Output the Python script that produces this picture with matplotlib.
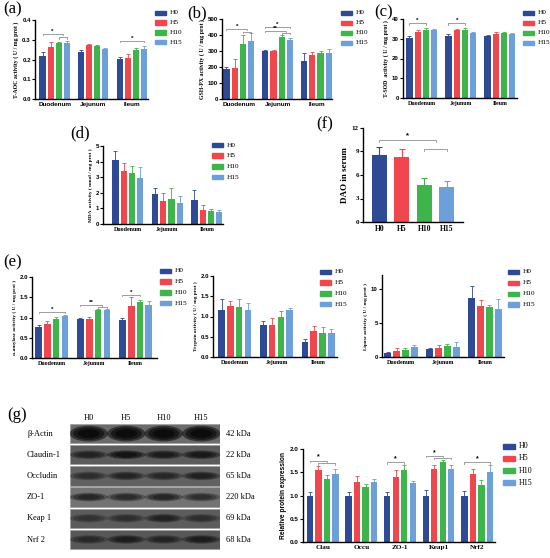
import matplotlib
matplotlib.use("Agg")
import matplotlib.pyplot as plt
from matplotlib.patches import Rectangle, Ellipse

plt.rcParams['font.family'] = ['Liberation Serif', 'DejaVu Serif']
plt.rcParams['axes.linewidth'] = 1.0

W, H = 550, 558
fig = plt.figure(figsize=(W / 100, H / 100), dpi=100)

groups = ['H0', 'H5', 'H10', 'H15']
colors = ['#2e4a94', '#f0474e', '#3db54a', '#6d9fd8']
tissues = ['Duodenum', 'Jejunum', 'Ileum']

# (a) T-AOC
taoc = [[0.218, 0.263, 0.283, 0.283], [0.238, 0.272, 0.270, 0.252], [0.203, 0.208, 0.250, 0.252]]
taoc_err = [[0.018, 0.028, 0.004, 0.012], [0.012, 0.008, 0.005, 0.004], [0.012, 0.018, 0.008, 0.015]]
# (b) GSH-PX
gsh = [[188, 195, 345, 360], [300, 302, 387, 367], [240, 278, 285, 285]]
gsh_err = [[12, 52, 58, 55], [6, 4, 12, 12], [48, 18, 18, 25]]
# (c) T-SOD
tsod = [[30.6, 33.4, 34.5, 34.3], [31.5, 34.2, 34.5, 33.0], [31.3, 32.6, 32.9, 32.4]]
tsod_err = [[0.9, 0.8, 1.1, 0.8], [1.0, 0.5, 1.0, 0.5], [0.8, 0.8, 0.3, 0.7]]
# (d) MDA
mda = [[4.1, 3.38, 3.25, 2.95], [1.95, 1.48, 1.58, 1.35], [1.55, 0.9, 0.85, 0.75]]
mda_err = [[0.55, 0.5, 0.45, 0.7], [0.35, 0.5, 0.72, 0.42], [0.6, 0.35, 0.1, 0.15]]
# (f) DAO
dao = [8.5, 8.3, 4.7, 4.5]
dao_err = [1.1, 1.0, 0.9, 0.7]
# (e) enzymes
amy = [[0.77, 0.85, 0.96, 1.03], [0.97, 0.97, 1.19, 1.19], [0.93, 1.29, 1.39, 1.32]]
amy_err = [[0.04, 0.06, 0.05, 0.04], [0.03, 0.04, 0.01, 0.02], [0.06, 0.22, 0.04, 0.08]]
tryp = [[1.17, 1.25, 1.23, 1.17], [0.78, 0.80, 1.00, 1.15], [0.37, 0.65, 0.60, 0.60]]
tryp_err = [[0.27, 0.13, 0.20, 0.17], [0.10, 0.17, 0.13, 0.05], [0.07, 0.11, 0.13, 0.08]]
lip = [[0.6, 0.9, 1.05, 1.5], [1.15, 1.25, 1.55, 1.5], [8.7, 7.4, 7.3, 7.0]]
lip_err = [[0.1, 0.35, 0.3, 0.25], [0.15, 0.45, 0.3, 0.65], [1.7, 1.0, 0.25, 1.55]]
# (g) proteins
proteins = ['Clau', 'Occu', 'ZO-1', 'Keap1', 'Nrf2']
prot = [[1.0, 1.55, 1.36, 1.47], [1.0, 1.30, 1.18, 1.28], [1.0, 1.40, 1.54, 1.27],
        [1.0, 1.57, 1.71, 1.56], [1.0, 1.47, 1.23, 1.50]]
prot_err = [[0.08, 0.08, 0.08, 0.10], [0.08, 0.12, 0.07, 0.08], [0.08, 0.15, 0.12, 0.04],
            [0.12, 0.09, 0.05, 0.09], [0.10, 0.10, 0.10, 0.15]]

blot_rows = ['β-Actin', 'Claudin-1', 'Occludin', 'ZO-1', 'Keap 1', 'Nrf 2']
blot_kda = ['42 kDa', '22 kDa', '65 kDa', '220 kDa', '69 kDa', '68 kDa']
blot_bg = [0.42, 0.36, 0.38, 0.45, 0.36, 0.34]
blot_dark = [[1.0, 1.0, 1.0, 1.0], [0.55, 0.8, 0.65, 0.7], [0.45, 0.55, 0.5, 0.6],
             [0.6, 0.55, 0.6, 0.5], [0.35, 0.4, 0.55, 0.4], [0.45, 0.6, 0.5, 0.6]]

# significance brackets: (group, from bar, to bar, y, label)
sig_a = [(0, 0, 2.5, 0.329, '*'), (0, 2, 3, 0.312, ''), (2, 0, 3, 0.295, '*')]
sig_b = [(0, 0, 2.5, 437, '*'), (0, 2, 3, 421, ''), (1, 0, 3, 452, '*'), (1, 0, 2.5, 427, '**'), (1, 2, 3, 415, '')]
sig_c = [(0, 0, 2, 37.8, '*'), (1, 0, 2, 37.8, '*')]
sig_e1 = [(0, 0, 3, 1.14, '*'), (1, 0, 2.5, 1.30, '**'), (1, 2, 3, 1.26, ''), (2, 0, 2, 1.55, '*')]
sig_g = [(0, 0, 2, 1.75, '*'), (0, 1, 3, 1.69, ''), (2, 0, 2, 1.71, '*'),
         (3, 0, 2, 1.85, '*'), (3, 1, 3, 1.80, ''), (4, 0, 3, 1.71, '*')]

PITCH = 0.21
BW = 0.16


def ax_px(l, t, r, b):
    return fig.add_axes([l / W, 1 - b / H, (r - l) / W, (b - t) / H])


def style(ax, ylim, yticks, ylabel, ysize=4.2, sans_y=True):
    ax.spines['top'].set_visible(False)
    ax.spines['right'].set_visible(False)
    ax.set_ylim(*ylim)
    ax.set_yticks(yticks)
    ax.tick_params(axis='y', length=2, width=0.8, pad=1)
    ax.tick_params(axis='x', length=0, pad=2)
    fam = ['Liberation Sans'] if sans_y else ['Liberation Serif']
    for t in ax.get_yticklabels():
        t.set_family(fam)
        t.set_fontsize(4.4)
        t.set_fontweight('bold')
    ax.set_ylabel(ylabel, fontsize=ysize, fontweight='bold', labelpad=2)


def bar_x(g, i):
    return g + (i - 1.5) * PITCH


def grouped(ax, means, errs, cats, xlim, xfont, xsize=4.6):
    for gi, (m, e) in enumerate(zip(means, errs)):
        for i in range(4):
            x = bar_x(gi, i)
            ax.bar(x, m[i], BW, color=colors[i], zorder=2)
            ax.errorbar(x, m[i], yerr=[[0], [e[i]]], fmt='none', ecolor=colors[i],
                        elinewidth=0.6, capsize=1.2, capthick=0.6, zorder=1)
    ax.set_xlim(*xlim)
    ax.set_xticks(range(len(cats)))
    ax.set_xticklabels(cats, fontsize=xsize, fontweight='bold', family=xfont)


def bracket(ax, g, i, j, y, label, h):
    x1, x2 = bar_x(g, i), bar_x(g, j)
    ax.plot([x1, x1, x2, x2], [y - h, y, y, y - h], color='#777777', lw=0.5, zorder=3, clip_on=False)
    if label:
        ax.text((x1 + x2) / 2, y, label, ha='center', va='bottom', fontsize=4.5,
                fontweight='bold', family=['Liberation Sans'])


def legend_px(x, y, dy, size=5.2, pw=11, ph=4.5):
    for i, g in enumerate(groups):
        yy = y + i * dy
        fig.patches.append(Rectangle((x / W, 1 - (yy + ph / 2) / H), pw / W, ph / H,
                                     transform=fig.transFigure, color=colors[i]))
        fig.text((x + pw + 4) / W, 1 - yy / H, g, fontsize=size, va='center', ha='left')


def panel_label(x, y, s):
    fig.text(x / W, 1 - y / H, s, fontsize=12, va='center', ha='left')


# (a)
ax = ax_px(35, 20, 148, 99)
grouped(ax, taoc, taoc_err, tissues, (-0.51, 2.42), ['Liberation Sans'])
style(ax, (0, 0.4), [0, 0.1, 0.2, 0.3, 0.4], 'T-AOC activity ( U / mg prot )')
ax.set_yticklabels(['0.0', '0.1', '0.2', '0.3', '0.4'])
for s in sig_a:
    bracket(ax, *s, h=0.006)
legend_px(155, 13, 9.7)
panel_label(3, 9, '(a)')

# (b)
ax = ax_px(222, 19, 332, 99)
grouped(ax, gsh, gsh_err, tissues, (-0.43, 2.40), ['Liberation Sans'])
style(ax, (0, 500), [0, 100, 200, 300, 400, 500], 'GSH-PX activity ( U / mg prot )')
for s in sig_b:
    bracket(ax, *s, h=8)
legend_px(341, 13, 10)
panel_label(187, 13, '(b)')

# (c)
ax = ax_px(403, 19, 517, 98)
grouped(ax, tsod, tsod_err, tissues, (-0.48, 2.44), ['Liberation Serif'], xsize=4.3)
style(ax, (0, 40), [0, 10, 20, 30, 40], 'T-SOD  activity ( U / mg prot )')
for s in sig_c:
    bracket(ax, *s, h=0.6)
legend_px(523, 13, 10)
panel_label(374, 12, '(c)')

# (d)
ax = ax_px(103, 146, 223, 224)
grouped(ax, mda, mda_err, tissues, (-0.63, 2.41), ['Liberation Serif'], xsize=4.3)
style(ax, (0, 5), [0, 1, 2, 3, 4, 5], 'MDA  activity ( nmol / mg prot )', ysize=3.8)
legend_px(212, 145, 10.7)
panel_label(70, 133, '(d)')

# (f)
ax = ax_px(363, 128, 463, 222)
xs = range(len(groups))
ax.bar(xs, dao, 0.65, color=colors, zorder=2)
for i in xs:
    ax.errorbar(i, dao[i], yerr=[[0], [dao_err[i]]], fmt='none', ecolor=colors[i],
                elinewidth=0.8, capsize=2.5, capthick=0.8, zorder=1)
ax.set_xlim(-0.72, 3.72)
ax.set_xticks(list(xs))
ax.set_xticklabels(groups, fontsize=5.5, fontweight='bold')
style(ax, (0, 12), [0, 3, 6, 9, 12], 'DAO in serum', ysize=6.5, sans_y=False)
for t in ax.get_yticklabels():
    t.set_fontsize(5)
ax.plot([0, 0, 2.5, 2.5], [10.2, 10.5, 10.5, 10.2], color='#777777', lw=0.5)
ax.plot([2, 2, 3, 3], [9.05, 9.35, 9.35, 9.05], color='#777777', lw=0.5)
ax.text(1.25, 10.6, '*', ha='center', va='bottom', fontsize=5.5, fontweight='bold',
        family=['Liberation Sans'])
panel_label(316, 124, '(f)')

# (e)
panel_label(3, 262, '(e)')
ax = ax_px(32, 277, 157, 358)
grouped(ax, amy, amy_err, tissues, (-0.47, 2.51), ['Liberation Serif'], xsize=4.3)
style(ax, (0, 2), [0, 0.5, 1.0, 1.5, 2.0], 'α-amylase activity ( U / mg prot )', ysize=3.8)
ax.set_yticklabels(['0.0', '0.5', '1.0', '1.5', '2.0'])
for s in sig_e1:
    bracket(ax, *s, h=0.025)
legend_px(160, 271, 10.7)

ax = ax_px(213, 276, 337, 357)
grouped(ax, tryp, tryp_err, tissues, (-0.52, 2.45), ['Liberation Serif'], xsize=4.3)
style(ax, (0, 2), [0, 0.5, 1.0, 1.5, 2.0], 'Trypsin activity ( U / mg prot )', ysize=3.8)
ax.set_yticklabels(['0.0', '0.5', '1.0', '1.5', '2.0'])
legend_px(320, 272, 10.7)

ax = ax_px(382, 275, 504, 357)
grouped(ax, lip, lip_err, tissues, (-0.45, 2.45), ['Liberation Serif'], xsize=4.3)
style(ax, (0, 12), [0, 5, 10], 'Lipase activity ( U / mg prot )', ysize=3.8)
legend_px(508, 272, 10.9)

# (g) western blot
panel_label(7, 415, '(g)')
bax = ax_px(70, 423, 220, 550)
bax.set_xlim(0, 4)
bax.set_ylim(6, 0)
bax.axis('off')
for r in range(len(blot_rows)):
    g = blot_bg[r]
    bax.add_patch(Rectangle((0, r + 0.04), 4, 0.92, color=(g, g, g), ec='#999999', lw=0.4))
    thick = 0.75 if r == 0 else 0.4
    for j in range(4):
        d = blot_dark[r][j]
        for k, sc in enumerate([1.0, 0.8, 0.55]):
            bax.add_patch(Ellipse((j + 0.5, r + 0.5), 0.97 * sc + 0.05, thick * sc,
                                  color='black', alpha=min(1.0, d * 0.5), lw=0))
    fig.text(27 / W, 1 - (423 + (r + 0.5) * 21.2) / H, blot_rows[r], fontsize=6,
             va='center', ha='left', family=['Liberation Serif', 'DejaVu Serif'])
    fig.text(226 / W, 1 - (423 + (r + 0.5) * 21.2) / H, blot_kda[r], fontsize=6,
             va='center', ha='left')
for j, g in enumerate(groups):
    fig.text((70 + (j + 0.5) * 37.5) / W, 1 - 418 / H, g, fontsize=6, ha='center', va='center')

# (g) bar chart
ax = ax_px(303, 449, 495, 542)
for gi, (m, e) in enumerate(zip(prot, prot_err)):
    for i in range(4):
        x = gi + (i - 1.5) * 0.22
        ax.bar(x, m[i], BW, color=colors[i], zorder=2)
        ax.errorbar(x, m[i], yerr=[[0], [e[i]]], fmt='none', ecolor=colors[i],
                    elinewidth=0.6, capsize=1.2, capthick=0.6, zorder=1)
ax.set_xlim(-0.51, 4.46)
ax.set_xticks(range(len(proteins)))
ax.set_xticklabels(proteins, fontsize=5.2, fontweight='bold')
style(ax, (0, 2), [0, 0.5, 1.0, 1.5, 2.0], 'Relative protein expression', ysize=4.8)
ax.yaxis.label.set_family(['Liberation Sans'])
ax.set_yticklabels(['0.0', '0.5', '1.0', '1.5', '2.0'])
for t in ax.get_yticklabels():
    t.set_family(['Liberation Sans'])
    t.set_fontweight('bold')
    t.set_fontsize(4.6)
for (g, i, j, y, lab) in sig_g:
    x1, x2 = g + (i - 1.5) * 0.22, g + (j - 1.5) * 0.22
    ax.plot([x1, x1, x2, x2], [y - 0.025, y, y, y - 0.025], color='#777777', lw=0.5)
    if lab:
        ax.text((x1 + x2) / 2, y, lab, ha='center', va='bottom', fontsize=5,
                fontweight='bold', family=['Liberation Sans'])
legend_px(503, 446, 12.3, size=5.8, pw=12, ph=5)

fig.savefig('out.png', dpi=100)
